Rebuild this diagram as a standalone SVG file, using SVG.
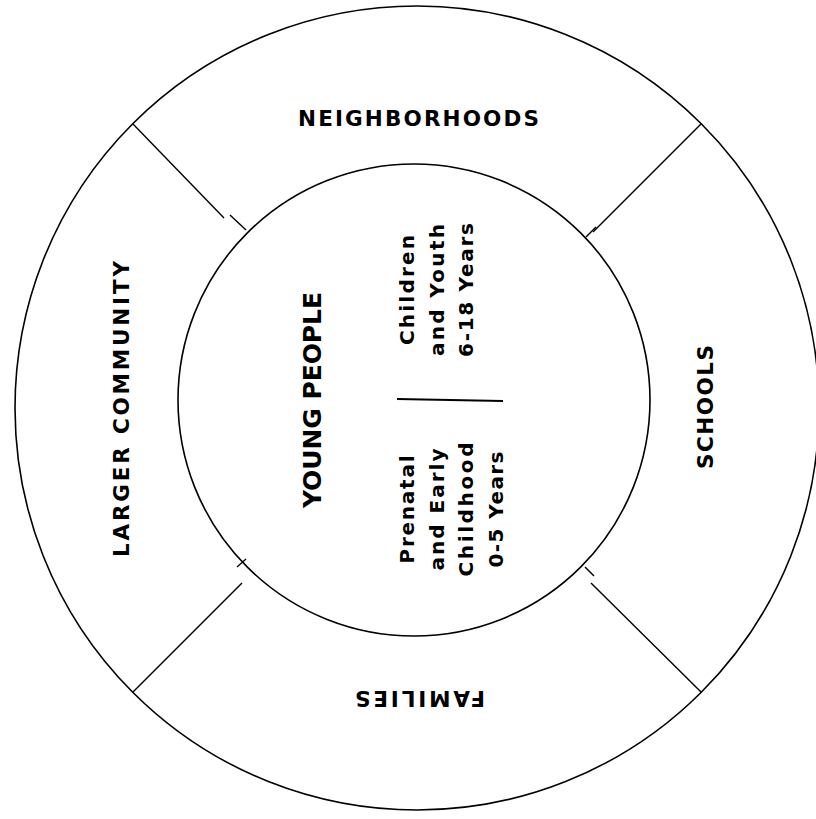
<svg xmlns="http://www.w3.org/2000/svg" width="816" height="819" viewBox="0 0 816 819">
<style>
.ring{fill:none;stroke:#000;stroke-width:1.6}
.div{stroke:#000;stroke-width:1.4;fill:none}
.lbl{font-family:"DejaVu Sans","Liberation Sans",sans-serif;font-weight:700;font-size:21.5px;fill:#000}
.big{font-family:"DejaVu Sans","Liberation Sans",sans-serif;font-weight:700;font-size:25px;fill:#000}
.sm{font-family:"DejaVu Sans","Liberation Sans",sans-serif;font-weight:700;font-size:20px;fill:#000}
</style>
<rect width="816" height="819" fill="#fff"/>
<g id="outer-ring">
<circle class="ring" cx="417" cy="408" r="402"/>
</g>
<g id="connectors">
<line class="div" x1="133" y1="124" x2="224" y2="218"/>
<line class="div" x1="230" y1="215" x2="246" y2="230"/>
<line class="div" x1="701" y1="124" x2="593" y2="232"/>
<line class="div" x1="596" y1="227" x2="586" y2="237"/>
<line class="div" x1="133" y1="692" x2="242" y2="583"/>
<line class="div" x1="237" y1="567" x2="246" y2="559"/>
<line class="div" x1="701" y1="692" x2="591" y2="583"/>
<line class="div" x1="585" y1="567" x2="594" y2="576"/>
</g>
<g id="neighborhoods">
<text class="lbl" x="298" y="126" textLength="241" lengthAdjust="spacing">NEIGHBORHOODS</text>
</g>
<g id="schools">
<text class="lbl" transform="translate(713,469) rotate(-90)" x="0" y="0" textLength="124" lengthAdjust="spacing">SCHOOLS</text>
</g>
<g id="families">
<text class="lbl" transform="translate(485,691) rotate(180)" x="0" y="0" textLength="130" lengthAdjust="spacing">FAMILIES</text>
</g>
<g id="larger-community">
<text class="lbl" transform="translate(129,557) rotate(-90)" x="0" y="0" textLength="296" lengthAdjust="spacing">LARGER COMMUNITY</text>
</g>
<g id="young-people">
<circle class="ring" cx="414" cy="400" r="236"/>
<text class="big" transform="translate(321,508) rotate(-90)" x="0" y="0" textLength="216" lengthAdjust="spacing">YOUNG PEOPLE</text>
<line x1="397" y1="399" x2="503" y2="401" stroke="#000" stroke-width="2"/>
</g>
<g id="children-youth" transform="rotate(-90)">
<text class="sm" x="-345" y="414" textLength="110" lengthAdjust="spacing">Children</text>
<text class="sm" x="-356" y="443.5" textLength="132" lengthAdjust="spacing">and Youth</text>
<text class="sm" x="-357" y="473" textLength="134" lengthAdjust="spacing">6-18 Years</text>
</g>
<g id="prenatal-early-childhood" transform="rotate(-90)">
<text class="sm" x="-563.5" y="414" textLength="108" lengthAdjust="spacing">Prenatal</text>
<text class="sm" x="-570.5" y="443.5" textLength="122" lengthAdjust="spacing">and Early</text>
<text class="sm" x="-576.5" y="473" textLength="134" lengthAdjust="spacing">Childhood</text>
<text class="sm" x="-567.5" y="502.5" textLength="116" lengthAdjust="spacing">0-5 Years</text>
</g>
</svg>
